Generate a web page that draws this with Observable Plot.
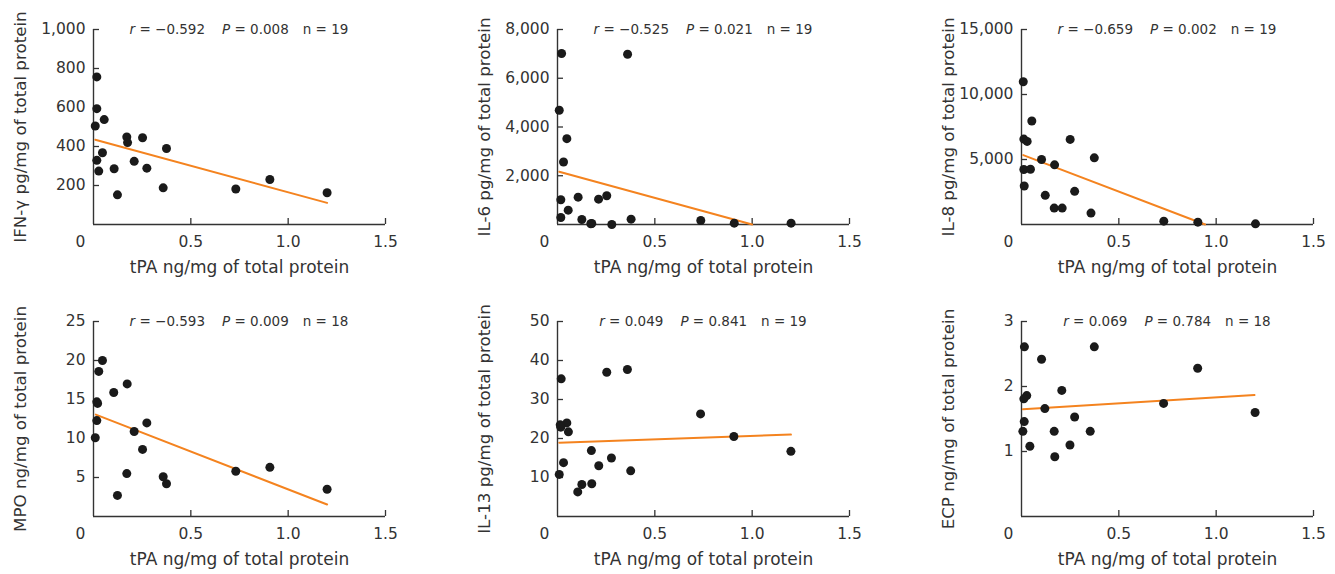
<!DOCTYPE html>
<html><head><meta charset="utf-8">
<script src="https://cdn.jsdelivr.net/npm/d3@7"></script>
<script src="https://cdn.jsdelivr.net/npm/@observablehq/plot@0.6"></script>
<style>
html,body{margin:0;padding:0;background:#fff;overflow:hidden;}
#wrap{position:relative;width:1335px;height:574px;overflow:hidden;background:#fff;}
.panel{position:absolute;width:464px;height:292px;}
.panel svg{max-width:none !important;}
</style></head><body><div id="wrap"></div>
<script>
// ---- shared labels & ticks ----
const xLabel = "tPA ng/mg of total protein";
const originLabel = ["0"];
const xTicks = [0.5, 1.0, 1.5];
const yLabels = [
  "IFN-γ pg/mg of total protein",
  "IL-6 pg/mg of total protein",
  "IL-8 pg/mg of total protein",
  "MPO ng/mg of total protein",
  "IL-13 pg/mg of total protein",
  "ECP ng/mg of total protein"
];
const yMax = [1000, 8000, 15000, 25, 50, 3];
const yTicks = [
  [200, 400, 600, 800, 1000],
  [2000, 4000, 6000, 8000],
  [5000, 10000, 15000],
  [5, 10, 15, 20, 25],
  [10, 20, 30, 40, 50],
  [1, 2, 3]
];
const rValues = ["−0.592", "−0.525", "−0.659", "−0.593", "0.049", "0.069"];
const pValues = ["0.008", "0.021", "0.002", "0.009", "0.841", "0.784"];
const nValues = ["19", "19", "19", "18", "19", "18"];

// ---- series ----
const ifnX = [0.017, 0.017, 0.009, 0.055, 0.171, 0.175, 0.252, 0.375, 0.046, 0.017, 0.209, 0.027, 0.106, 0.274, 0.123, 0.358, 0.731, 0.906, 1.200];
const ifnY = [757, 594, 505, 538, 449, 420, 445, 390, 368, 329, 324, 274, 286, 289, 152, 188, 182, 231, 163];
const ifnFitX = [0.009, 1.2];
const ifnFitY = [435, 111];

const il6X = [0.021, 0.360, 0.009, 0.048, 0.031, 0.017, 0.106, 0.211, 0.253, 0.055, 0.017, 0.125, 0.176, 0.171, 0.279, 0.378, 0.736, 0.908, 1.200];
const il6Y = [7014, 6986, 4685, 3521, 2562, 1014, 1123, 1041, 1178, 589, 288, 205, 41, 30, 0, 219, 164, 55, 55];
const il6FitX = [0.009, 1.0];
const il6FitY = [2164, 0];

const il8X = [0.009, 0.053, 0.012, 0.029, 0.250, 0.374, 0.103, 0.170, 0.012, 0.046, 0.014, 0.122, 0.273, 0.168, 0.209, 0.357, 0.731, 0.906, 1.202];
const il8Y = [10979, 7964, 6572, 6392, 6546, 5129, 5000, 4588, 4227, 4253, 2964, 2242, 2552, 1263, 1263, 876, 258, 180, 52];
const il8FitX = [0.009, 0.943];
const il8FitY = [5335, 0];

const mpoX = [0.046, 0.027, 0.173, 0.104, 0.017, 0.021, 0.017, 0.274, 0.209, 0.009, 0.252, 0.171, 0.358, 0.375, 0.123, 0.731, 0.906, 1.200];
const mpoY = [20.0, 18.6, 17.0, 15.9, 14.7, 14.5, 12.3, 12.0, 10.9, 10.1, 8.6, 5.5, 5.1, 4.2, 2.7, 5.8, 6.3, 3.5];
const mpoFitX = [0.012, 1.2];
const mpoFitY = [13.06, 1.54];

const il13X = [0.253, 0.359, 0.019, 0.735, 0.048, 0.014, 0.017, 0.056, 0.906, 0.174, 1.199, 0.277, 0.031, 0.212, 0.376, 0.009, 0.176, 0.125, 0.104];
const il13Y = [37.0, 37.7, 35.3, 26.3, 24.0, 23.5, 22.9, 21.7, 20.5, 16.9, 16.7, 15.0, 13.8, 13.0, 11.7, 10.8, 8.4, 8.2, 6.3];
const il13FitX = [0.009, 1.199];
const il13FitY = [18.9, 21.0];

const ecpX = [0.015, 0.374, 0.103, 0.905, 0.207, 0.027, 0.012, 0.730, 0.120, 1.200, 0.273, 0.014, 0.007, 0.168, 0.353, 0.043, 0.249, 0.171];
const ecpY = [2.61, 2.61, 2.42, 2.28, 1.94, 1.86, 1.81, 1.74, 1.66, 1.60, 1.53, 1.46, 1.31, 1.31, 1.31, 1.08, 1.10, 0.92];
const ecpFitX = [0.007, 1.197];
const ecpFitY = [1.65, 1.87];

const seriesX = [ifnX, il6X, il8X, mpoX, il13X, ecpX];
const seriesY = [ifnY, il6Y, il8Y, mpoY, il13Y, ecpY];
const fitsX = [ifnFitX, il6FitX, il8FitX, mpoFitX, il13FitX, ecpFitX];
const fitsY = [ifnFitY, il6FitY, il8FitY, mpoFitY, il13FitY, ecpFitY];

// ---- layout ----
const W = 464, H = 292, ML = 93, MR = 79, MT = 29, MB = 68;
const innerW = W - ML - MR, innerH = H - MT - MB;
const axisColor = "#333333";
const tickFont = "'DejaVu Sans', sans-serif";
const labelFont = "'DejaVu Sans', sans-serif";
const statFont = "'DejaVu Sans', sans-serif";
const tickSizePx = 15.5;

const wrap = document.getElementById("wrap");

for (let i = 0; i < 6; i++) {
  const pts = seriesX[i].map((x, k) => ({x, y: seriesY[i][k]}));
  const fit = fitsX[i].map((x, k) => ({x, y: fitsY[i][k]}));
  const plot = Plot.plot({
    width: W, height: H,
    marginLeft: ML, marginRight: MR, marginTop: MT, marginBottom: MB,
    x: {domain: [0, 1.5]},
    y: {domain: [0, yMax[i]]},
    style: {fontFamily: tickFont, fontSize: tickSizePx + "px", color: axisColor, background: "transparent", overflow: "visible", maxWidth: "none"},
    marks: [
      Plot.axisX({ticks: xTicks, tickSize: 0, tickPadding: 11, tickFormat: d3.format(".1f"), label: null, fontSize: tickSizePx}),
      Plot.axisY({ticks: yTicks[i], tickSize: 0, tickPadding: 8, tickFormat: d3.format(","), label: null, fontSize: tickSizePx}),
      Plot.text(originLabel, {x: () => 0, y: () => 0, text: d => d, dx: -13, dy: 18, fontSize: tickSizePx, fill: axisColor}),
      Plot.tickX(xTicks, {x: d => d, insetTop: innerH - 6, stroke: axisColor, strokeWidth: 1.3}),
      Plot.tickY(yTicks[i], {y: d => d, insetRight: innerW - 6, stroke: axisColor, strokeWidth: 1.3}),
      Plot.ruleX([0], {stroke: axisColor, strokeWidth: 1.4}),
      Plot.ruleY([0], {stroke: axisColor, strokeWidth: 1.4}),
      Plot.line(fit, {x: "x", y: "y", stroke: "#f4831f", strokeWidth: 2}),
      Plot.dot(pts, {x: "x", y: "y", r: 4.5, fill: "#1a1a1a", stroke: "none"}),
      Plot.text([yLabels[i]], {frameAnchor: "left", rotate: -90, textAnchor: "middle", dx: -73, fontSize: 16.7, fontFamily: labelFont, fill: axisColor}),
      Plot.text([xLabel], {frameAnchor: "bottom", textAnchor: "middle", dy: 48, fontSize: 17, fontFamily: labelFont, fill: axisColor})
    ]
  });
  // statistics annotation with italic r and P
  const svg = d3.select(plot);
  const t = svg.append("text")
    .attr("x", ML + innerW / 2).attr("y", MT).attr("dy", "0.35em")
    .attr("text-anchor", "middle")
    .attr("fill", axisColor)
    .style("font-family", statFont).style("font-size", "13.5px");
  t.append("tspan").style("font-style", "italic").text("r");
  t.append("tspan").text(" = " + rValues[i]);
  t.append("tspan").attr("dx", 17).style("font-style", "italic").text("P");
  t.append("tspan").text(" = " + pValues[i]);
  t.append("tspan").attr("dx", 14).text("n = " + nValues[i]);

  const div = document.createElement("div");
  div.className = "panel";
  div.style.left = (i % 3) * 464 + "px";
  div.style.top = Math.floor(i / 3) * 292 + "px";
  div.appendChild(plot);
  wrap.appendChild(div);
}
</script></body></html>
